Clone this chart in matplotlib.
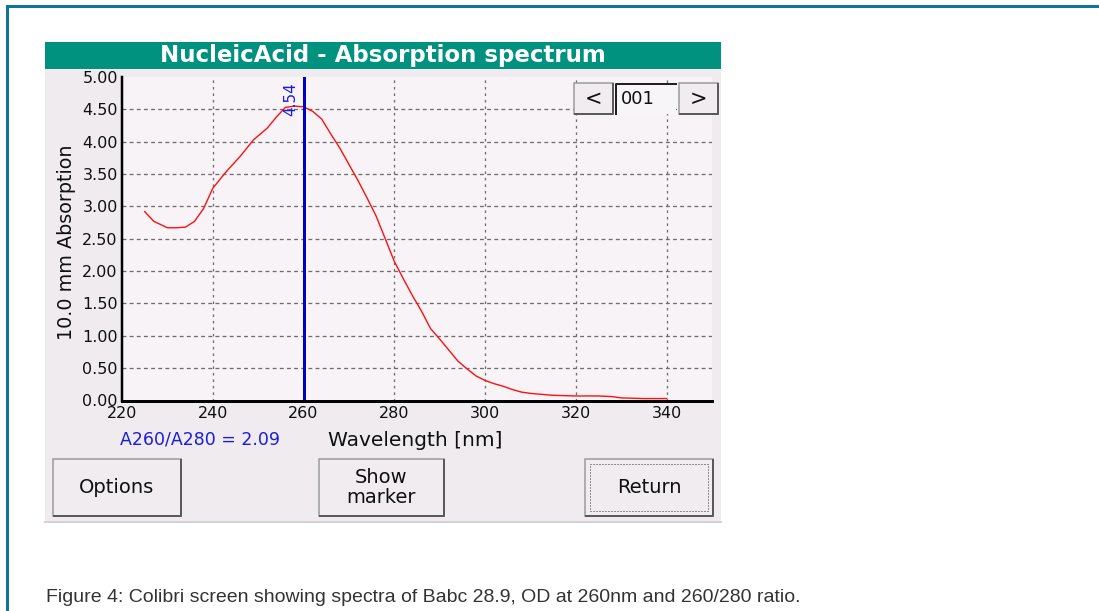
import matplotlib
matplotlib.use("Agg")
import matplotlib.pyplot as plt
from matplotlib.patches import Rectangle
import numpy as np

# ---- data ----
wavelength = [225, 227, 230, 232, 234, 236, 238, 240, 243, 246, 249, 252, 254, 256, 258,
              260, 262, 264, 266, 268, 270, 272, 274, 276, 278, 280, 282, 284, 286, 288,
              290, 292, 294, 296, 298, 300, 302, 304, 306, 308, 310, 315, 320, 325, 328,
              330, 335, 340]
absorption = [2.92, 2.77, 2.67, 2.67, 2.68, 2.77, 2.97, 3.28, 3.54, 3.77, 4.03, 4.21, 4.38, 4.53, 4.55,
              4.54, 4.47, 4.35, 4.12, 3.90, 3.65, 3.40, 3.13, 2.85, 2.50, 2.15, 1.88, 1.62, 1.38, 1.11,
              0.95, 0.78, 0.61, 0.49, 0.38, 0.31, 0.26, 0.22, 0.17, 0.13, 0.11, 0.08, 0.07, 0.07, 0.06,
              0.04, 0.03, 0.03]
marker_wl = 260
marker_value = "4.54"
ratio_text = "A260/A280 = 2.09"
x_ticks = [220, 240, 260, 280, 300, 320, 340]
y_ticks = [0.0, 0.5, 1.0, 1.5, 2.0, 2.5, 3.0, 3.5, 4.0, 4.5, 5.0]
title = "NucleicAcid - Absorption spectrum"
ylabel = "10.0 mm Absorption"
xlabel = "Wavelength [nm]"
buttons = ["Options", "Show\nmarker", "Return"]
page = "001"
caption = "Figure 4: Colibri screen showing spectra of Babc 28.9, OD at 260nm and 260/280 ratio."

W, H = 1099, 611
fig = plt.figure(figsize=(W / 100, H / 100), dpi=100)
fig.patch.set_facecolor("white")


def pixel_axes(z):
    a = fig.add_axes([0, 0, 1, 1], zorder=z)
    a.set_xlim(0, W)
    a.set_ylim(H, 0)
    a.axis("off")
    a.patch.set_alpha(0)
    return a


bg = pixel_axes(0)
fg = pixel_axes(5)

px = 72 / 100  # points per pixel
gui_font = "DejaVu Sans"

# outer frame
bg.plot([7, 7, W], [H, 6, 6], color="#0f7595", lw=3 * px, solid_joinstyle="miter")

# screen
bg.add_patch(Rectangle((45, 42), 676, 480, fc="#efebef", ec="none"))
bg.plot([45, 721], [522, 522], color="#d6d2d6", lw=2 * px)
bg.add_patch(Rectangle((45, 42), 676, 27, fc="#00917f", ec="none"))
bg.text(383, 55.5, title, color="white", fontsize=16.5, fontweight="bold",
        family=gui_font, ha="center", va="center")


def button(a, x0, y0, x1, y1, label, fs=14, focus=False):
    a.add_patch(Rectangle((x0, y0), x1 - x0, y1 - y0, fc="#f0ecf0", ec="#9a9a9a", lw=1.5 * px))
    a.plot([x0 + 1, x1, x1], [y1, y1, y0 + 1], color="#5a5a5a", lw=2 * px)
    if focus:
        a.add_patch(Rectangle((x0 + 5, y0 + 5), x1 - x0 - 10, y1 - y0 - 10, fc="none",
                              ec="#303030", lw=1 * px, ls=(0, (1, 2))))
    a.text((x0 + x1) / 2, (y0 + y1) / 2, label, fontsize=fs, family=gui_font,
           ha="center", va="center", color="#101010", linespacing=1.05)


button(bg, 53, 459, 181, 516, buttons[0])
button(bg, 319, 459, 444, 516, buttons[1])
button(bg, 585, 459, 713, 516, buttons[2], focus=True)

# navigation (on top of chart)
button(fg, 574, 83, 613, 114, "<", fs=15)
button(fg, 679, 83, 718, 114, ">", fs=15)
fg.add_patch(Rectangle((615, 83), 61, 31, fc="#f7f5f7", ec="none"))
fg.plot([616, 616, 676], [114, 83.5, 83.5], color="#202020", lw=2 * px)
fg.text(621, 99.5, page, fontsize=13, family=gui_font, ha="left", va="center", color="#101010")

# ratio and axis labels
bg.text(120, 440, ratio_text, fontsize=12.5, family=gui_font, color="#1c1ce0",
        ha="left", va="center")
bg.text(415, 440, xlabel, fontsize=14.5, family=gui_font, color="#101010",
        ha="center", va="center")
bg.text(66, 242, ylabel, fontsize=13.8, family=gui_font, color="#101010",
        ha="center", va="center", rotation=90)

# caption
bg.text(46, 597, caption, fontsize=14, family=["Liberation Sans Narrow", "Liberation Sans"],
        color="#333333", ha="left", va="center")

# ---- main chart axes ----
left, right, top, bottom = 122, 712, 77, 400.5
ax = fig.add_axes([left / W, 1 - bottom / H, (right - left) / W, (bottom - top) / H], zorder=2)
ax.set_facecolor("#f7f3f7")
ax.set_xlim(220, 350)
ax.set_ylim(0, 5)

for y in y_ticks[1:-1]:
    ax.axhline(y, color="#6e6e6e", lw=1.3 * px, ls=(0, (3, 2.5)), zorder=1)
for x in x_ticks[1:]:
    ax.axvline(x, color="#6e6e6e", lw=1.3 * px, ls=(0, (2, 3)), zorder=1)

ax.plot(wavelength, absorption, color="#ff1010", lw=1.0, zorder=3)
ax.axvline(marker_wl, color="#0000c8", lw=3 * px, zorder=4)
ax.annotate(marker_value, xy=(marker_wl, 5), xytext=(-5, -5), textcoords="offset pixels",
            rotation=90, ha="right", va="top", color="#1c1ce0", fontsize=11, family=gui_font)

ax.set_xticks(x_ticks)
ax.set_xticklabels([str(v) for v in x_ticks])
ax.set_yticks(y_ticks)
ax.set_yticklabels(["%.2f" % v for v in y_ticks])
ax.tick_params(length=0, labelsize=11.5, colors="#101010")
ax.tick_params(axis="y", pad=3)
ax.tick_params(axis="x", pad=4)
for lab in ax.get_xticklabels() + ax.get_yticklabels():
    lab.set_family(gui_font)

for s in ["top", "right"]:
    ax.spines[s].set_visible(False)
ax.spines["left"].set_linewidth(2.5 * px)
ax.spines["bottom"].set_linewidth(3 * px)
ax.spines["left"].set_color("black")
ax.spines["bottom"].set_color("black")
ax.spines["left"].set_zorder(5)
ax.spines["bottom"].set_zorder(5)

fig.savefig("out.png", dpi=100, facecolor=fig.get_facecolor())
